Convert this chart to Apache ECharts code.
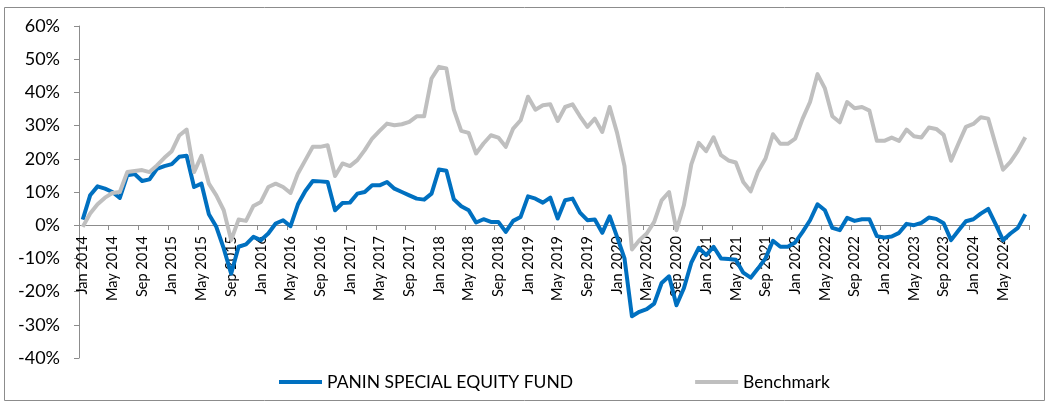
<!DOCTYPE html>
<html>
<head>
<meta charset="utf-8">
<script src="https://cdn.jsdelivr.net/npm/echarts@6/dist/echarts.min.js"></script>
<style>
html,body{margin:0;padding:0;background:#fff;}
#chart{width:1050px;height:405px;}
</style>
</head>
<body>
<div id="chart"></div>
<script>
// Category labels: monthly, Jan 2014 .. Aug 2024
const monthNames = ['Jan','Feb','Mar','Apr','May','Jun','Jul','Aug','Sep','Oct','Nov','Dec'];
const years = [2014,2015,2016,2017,2018,2019,2020,2021,2022,2023,2024];
const lastYearMonths = 8;
const categories = [];
years.forEach(function(y, k){
  const n = (k === years.length - 1) ? lastYearMonths : 12;
  for (let m = 0; m < n; m++) categories.push(monthNames[m] + ' ' + y);
});

const seriesNames = ['PANIN SPECIAL EQUITY FUND', 'Benchmark'];

// Cumulative return, %
const fund = [
  1.7, 9, 11.7, 11, 10, 8.2, 15, 15.4, 13.3, 13.8, 17, 17.8,
  18.4, 20.6, 20.9, 11.5, 12.5, 3.3, -0.5, -7, -14.6, -6.5, -5.8, -3.5,
  -4.5, -2.5, 0.5, 1.5, -0.3, 6.3, 10.3, 13.3, 13.2, 13, 4.5, 6.7,
  6.8, 9.5, 10, 12, 12, 13, 11, 10, 9, 8, 7.7, 9.5,
  16.8, 16.4, 7.8, 5.7, 4.5, 0.8, 1.8, 1, 1, -2, 1.3, 2.5,
  8.7, 8, 6.8, 8.3, 2, 7.5, 8, 3.8, 1.5, 1.7, -2.3, 2.7,
  -3.5, -10, -27.4, -26.1, -25.3, -23.6, -17.4, -15.4, -24.1, -19, -11.3, -6.8,
  -9, -6.5, -10, -10.2, -10.4, -14.3, -15.8, -13, -10, -4.7, -6.5, -6.5,
  -5.2, -2, 1.5, 6.3, 4.5, -0.8, -1.5, 2.2, 1.3, 1.8, 1.8, -3.3,
  -3.7, -3.4, -2.3, 0.4, 0, 0.7, 2.3, 1.9, 0.6, -4.5, -1.6, 1.2,
  1.8, 3.5, 4.9, 0.3, -4.5, -2.5, -0.8, 3.3
];
const benchmark = [
  -0.5, 3.5, 6.3, 8.3, 9.7, 10, 16, 16.3, 16.6, 16, 18, 20.3,
  22.3, 27, 28.8, 16, 20.9, 12.5, 9, 4.5, -4.5, 1.7, 1.3, 5.8,
  7, 11.5, 12.5, 11.5, 9.7, 15.6, 19.6, 23.6, 23.6, 24.1, 14.8, 18.6,
  17.8, 19.6, 22.6, 26.1, 28.4, 30.6, 30.1, 30.4, 31.1, 32.8, 32.8, 44.2,
  47.7, 47.2, 34.8, 28.4, 27.8, 21.6, 24.6, 27.1, 26.4, 23.6, 29.1, 31.6,
  38.7, 34.8, 36.1, 36.4, 31.4, 35.6, 36.4, 32.8, 29.6, 32.1, 28.1, 35.6,
  27.8, 17.8, -7.3, -4.5, -2.5, 1, 7.5, 10, -1.5, 6, 18.3, 24.8,
  22.3, 26.5, 21.1, 19.5, 18.9, 13, 10.2, 16.2, 20.1, 27.4, 24.5, 24.5,
  26.1, 32.1, 37.1, 45.5, 41.2, 32.8, 31, 37.1, 35.2, 35.6, 34.5, 25.4,
  25.4, 26.4, 25.4, 28.8, 26.8, 26.4, 29.4, 29, 27.2, 19.4, 24.6, 29.6,
  30.5, 32.5, 32.1, 24.3, 16.7, 19.1, 22.4, 26.5
];

const yMin = -40, yMax = 60, yStep = 10;

const gridTop = 26, gridBottom = 47, chartH = 405;
const plotH = chartH - gridTop - gridBottom;
// move the category axis up from the grid bottom to the zero line
const zeroOffset = -Math.round(plotH * (0 - yMin) / (yMax - yMin));

const chart = echarts.init(document.getElementById('chart'), null, {renderer: 'canvas'});
const font = 'Lato, "Open Sans", sans-serif';
chart.setOption({
  animation: false,
  backgroundColor: '#ffffff',
  graphic: [{
    type: 'rect', silent: true, z: -1,
    shape: {x: 4.5, y: 7.5, width: 1040, height: 393},
    style: {fill: null, stroke: '#8c8c8c', lineWidth: 1}
  }],
  grid: {left: 79, right: 21, top: gridTop, bottom: gridBottom, containLabel: false, outerBoundsMode: 'none'},
  legend: {
    left: 274, top: 368,
    itemWidth: 43, itemHeight: 4, itemGap: 122,
    icon: 'rect',
    textStyle: {fontFamily: font, fontSize: 17.5, color: '#000'},
    data: seriesNames
  },
  xAxis: {
    type: 'category',
    data: categories,
    boundaryGap: true,
    offset: zeroOffset,
    axisLine: {onZero: false, lineStyle: {color: '#8c8c8c', width: 1}},
    axisTick: {show: true, interval: 3, length: 5, lineStyle: {color: '#8c8c8c'}},
    axisLabel: {interval: 3, rotate: 90, margin: 11, fontFamily: font, fontSize: 14.5, color: '#000'},
    splitLine: {show: false}
  },
  yAxis: {
    type: 'value',
    min: yMin, max: yMax, interval: yStep,
    axisLine: {show: true, lineStyle: {color: '#8c8c8c', width: 1}},
    axisTick: {show: true, length: 5, lineStyle: {color: '#8c8c8c'}},
    axisLabel: {formatter: '{value}%', margin: 19, fontFamily: font, fontSize: 18, color: '#000'},
    splitLine: {show: false}
  },
  series: [
    {
      name: seriesNames[0], type: 'line', data: fund,
      symbol: 'none', smooth: false,
      lineStyle: {color: '#0070C0', width: 4, join: 'round'},
      itemStyle: {color: '#0070C0'}
    },
    {
      name: seriesNames[1], type: 'line', data: benchmark,
      symbol: 'none', smooth: false,
      lineStyle: {color: '#BFBFBF', width: 4, join: 'round'},
      itemStyle: {color: '#BFBFBF'}
    }
  ]
});
</script>
</body>
</html>
